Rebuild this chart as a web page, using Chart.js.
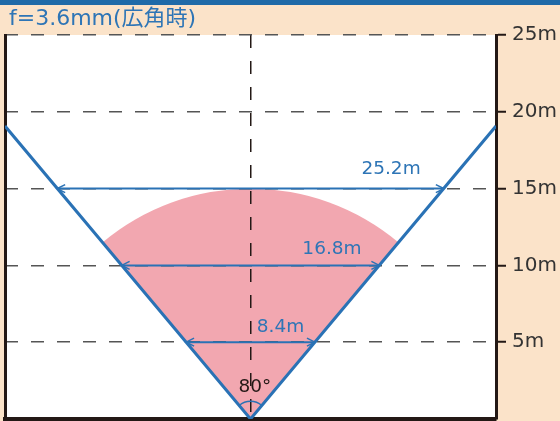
<!DOCTYPE html>
<html>
<head>
<meta charset="utf-8">
<script src="https://cdn.jsdelivr.net/npm/chart.js@4/dist/chart.umd.min.js"></script>
<style>
    html, body { margin: 0; padding: 0; background: #fbe3c9; }
    #wrap { width: 560px; height: 421px; }
</style>
</head>
<body>
<div id="wrap"><canvas id="chart" width="560" height="421"></canvas></div>
<script>
// --- donnees ---
const TITLE = 'f=3.6mm(広角時)';
const ANGLE_LABEL = '80°';
const VIEW_ANGLE = 80;          // angle de champ (deg)
const SECTOR_RADIUS = 15;       // rayon du secteur rose (m)
const APEX_ARC_RADIUS = 1.15;   // petit arc d'angle (m)

const EDGE_X = [-16, 0, 16];    // bords du champ de vision
const EDGE_Y = [19.07, 0, 19.07];

const WIDTH_HEIGHTS = [15, 10, 5];        // distance (m)
const WIDTH_VALUES = [25.2, 16.8, 8.4];   // largeur couverte (m)
const WIDTH_LABELS = ['25.2m', '16.8m', '8.4m'];
const LABEL_X = [9.16, 5.31, 1.96];
const LABEL_Y = [16.28, 11.07, 5.99];
const ANGLE_LABEL_POS = [0.29, 2.08];

const Y_TICKS = [5, 10, 15, 20, 25];
const X_MIN = -16, X_MAX = 16, Y_MIN = 0, Y_MAX = 25;

// --- couleurs ---
const BLUE = '#2a72b5';
const DARK = '#231815';
const PINK = '#f2a7b0';

const datasets = [{
    label: 'edge',
    data: EDGE_X.map((x, i) => ({ x: x, y: EDGE_Y[i] })),
    borderColor: BLUE,
    borderWidth: 3,
    pointRadius: 0,
    showLine: true,
    fill: false
}];
WIDTH_VALUES.forEach((w, i) => {
    datasets.push({
        label: WIDTH_LABELS[i],
        arrow: true,
        data: [{ x: -w / 2, y: WIDTH_HEIGHTS[i] }, { x: w / 2, y: WIDTH_HEIGHTS[i] }],
        borderColor: BLUE,
        borderWidth: 2,
        pointRadius: 0,
        showLine: true,
        fill: false
    });
});

// fond, secteur, titre, fleches et textes
const decor = {
    id: 'decor',
    beforeDraw(chart) {
        const { ctx, chartArea: a, scales: { x, y } } = chart;
        ctx.save();
        ctx.fillStyle = '#1f6aa8';
        ctx.fillRect(0, 0, chart.width, 5);
        ctx.fillStyle = '#ffffff';
        ctx.fillRect(a.left, a.top, a.right - a.left, a.bottom - a.top);

        // secteur rose
        const cx = x.getPixelForValue(0), cy = y.getPixelForValue(0);
        const r = cy - y.getPixelForValue(SECTOR_RADIUS);
        const half = VIEW_ANGLE / 2 * Math.PI / 180;
        ctx.beginPath();
        ctx.moveTo(cx, cy);
        ctx.arc(cx, cy, r, -Math.PI / 2 - half, -Math.PI / 2 + half);
        ctx.closePath();
        ctx.fillStyle = PINK;
        ctx.fill();

        // titre
        ctx.font = '22px "DejaVu Sans", "Noto Sans CJK JP", sans-serif';
        ctx.fillStyle = '#2e75b6';
        ctx.textBaseline = 'middle';
        ctx.textAlign = 'left';
        ctx.fillText(TITLE, 9, 19);
        ctx.restore();
    },
    afterDatasetsDraw(chart) {
        const { ctx, scales: { x, y } } = chart;
        ctx.save();
        // pointes de fleches
        ctx.strokeStyle = BLUE;
        ctx.lineWidth = 1.5;
        chart.data.datasets.forEach((ds, i) => {
            if (!ds.arrow) return;
            const pts = chart.getDatasetMeta(i).data;
            [[pts[0], 1], [pts[1], -1]].forEach(([p, dir]) => {
                ctx.beginPath();
                ctx.moveTo(p.x + dir * 8, p.y - 4);
                ctx.lineTo(p.x, p.y);
                ctx.lineTo(p.x + dir * 8, p.y + 4);
                ctx.stroke();
            });
        });

        // arc de l'angle
        const cx = x.getPixelForValue(0), cy = y.getPixelForValue(0);
        const r = cy - y.getPixelForValue(APEX_ARC_RADIUS);
        const half = VIEW_ANGLE / 2 * Math.PI / 180;
        ctx.beginPath();
        ctx.arc(cx, cy, r, -Math.PI / 2 - half, -Math.PI / 2 + half);
        ctx.stroke();

        // libelles des largeurs
        ctx.font = '18.5px "DejaVu Sans", sans-serif';
        ctx.textAlign = 'center';
        ctx.textBaseline = 'middle';
        ctx.fillStyle = '#2e75b6';
        WIDTH_LABELS.forEach((t, i) => {
            ctx.fillText(t, x.getPixelForValue(LABEL_X[i]), y.getPixelForValue(LABEL_Y[i]));
        });
        ctx.fillStyle = DARK;
        ctx.fillText(ANGLE_LABEL, x.getPixelForValue(ANGLE_LABEL_POS[0]), y.getPixelForValue(ANGLE_LABEL_POS[1]));
        ctx.restore();
    }
};

new Chart(document.getElementById('chart'), {
    type: 'scatter',
    data: { datasets: datasets },
    plugins: [decor],
    options: {
        responsive: false,
        animation: false,
        devicePixelRatio: 1,
        layout: { padding: { top: 35, left: 5, bottom: 2, right: 0 } },
        plugins: { legend: { display: false }, tooltip: { enabled: false } },
        scales: {
            x: {
                type: 'linear',
                position: 'bottom',
                min: X_MIN,
                max: X_MAX,
                ticks: { display: false, stepSize: 16 },
                grid: {
                    drawTicks: false,
                    lineWidth: 1.5,
                    color: (c) => (c.tick && c.tick.value === 0) ? DARK : 'rgba(0,0,0,0)'
                },
                border: { display: true, color: DARK, width: 4, dash: [13, 13] }
            },
            yl: {
                type: 'linear',
                position: 'left',
                min: Y_MIN,
                max: Y_MAX,
                ticks: { display: false },
                grid: { drawOnChartArea: false, drawTicks: false },
                border: { display: true, color: DARK, width: 3 },
                afterFit: (s) => { s.width = 0; s.paddingTop = 0; s.paddingBottom = 0; }
            },
            y: {
                type: 'linear',
                position: 'right',
                min: Y_MIN,
                max: Y_MAX,
                ticks: {
                    stepSize: 1,
                    autoSkip: false,
                    padding: 6,
                    color: '#333333',
                    font: { family: '"DejaVu Sans", sans-serif', size: 20 },
                    callback: (v) => Y_TICKS.includes(v) ? v + 'm' : null
                },
                grid: {
                    drawOnChartArea: true,
                    lineWidth: 1.5,
                    tickLength: 10,
                    tickWidth: 2,
                    tickColor: DARK,
                    color: (c) => (c.tick && Y_TICKS.includes(c.tick.value)) ? '#555555' : 'rgba(0,0,0,0)'
                },
                border: { display: true, color: DARK, width: 3, dash: [13, 13] },
                afterFit: (s) => { s.width = 64; s.paddingTop = 0; s.paddingBottom = 0; }
            }
        }
    }
});
</script>
</body>
</html>
